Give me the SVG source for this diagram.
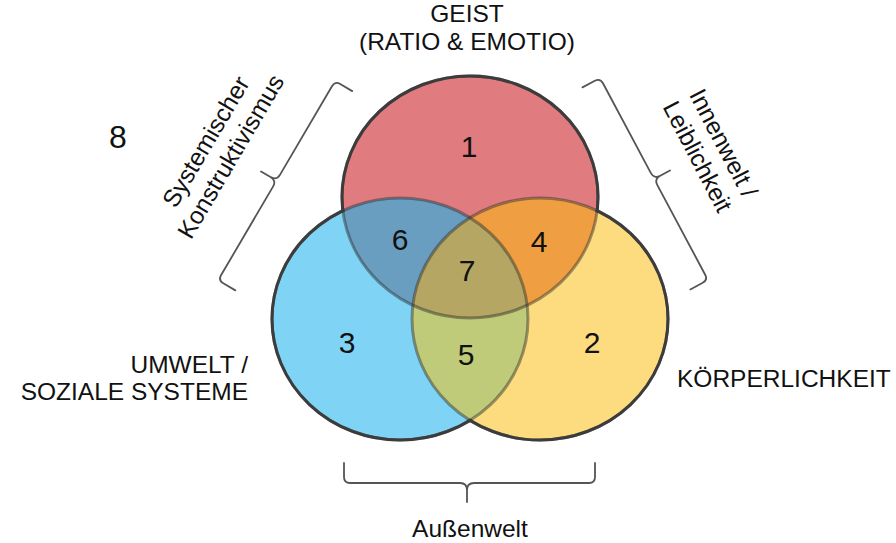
<svg xmlns="http://www.w3.org/2000/svg" width="896" height="543" viewBox="0 0 896 543">
<style>
.lbl{font-family:"Liberation Sans",Arial,Helvetica,sans-serif;font-size:24.5px;fill:#111;}
.num{font-family:"Liberation Sans",Arial,Helvetica,sans-serif;font-size:30px;fill:#111;text-anchor:middle;}
.brace{fill:none;stroke:#555;stroke-width:1.8;stroke-linejoin:round;stroke-linecap:round;}
.edge{fill:none;stroke:#3c3c3c;stroke-width:3;}
.edgeIn{fill:none;stroke:#2a2a2a;stroke-width:3;stroke-opacity:0.45;}
</style>
<defs>
<clipPath id="cR"><ellipse cx="470" cy="197" rx="128" ry="121"/></clipPath>
<clipPath id="cB"><ellipse cx="400" cy="319" rx="128" ry="121"/></clipPath>
<mask id="mR" maskUnits="userSpaceOnUse" x="0" y="0" width="896" height="543"><rect width="896" height="543" fill="#fff"/><ellipse cx="400" cy="319" rx="126.5" ry="119.5" fill="#000"/><ellipse cx="540" cy="319" rx="126.5" ry="119.5" fill="#000"/></mask>
<mask id="mB" maskUnits="userSpaceOnUse" x="0" y="0" width="896" height="543"><rect width="896" height="543" fill="#fff"/><ellipse cx="470" cy="197" rx="126.5" ry="119.5" fill="#000"/><ellipse cx="540" cy="319" rx="126.5" ry="119.5" fill="#000"/></mask>
<mask id="mY" maskUnits="userSpaceOnUse" x="0" y="0" width="896" height="543"><rect width="896" height="543" fill="#fff"/><ellipse cx="470" cy="197" rx="126.5" ry="119.5" fill="#000"/><ellipse cx="400" cy="319" rx="126.5" ry="119.5" fill="#000"/></mask>
</defs>

<g id="geist"><ellipse cx="470" cy="197" rx="128" ry="121" fill="#e07b80"/></g>
<g id="umwelt"><ellipse cx="400" cy="319" rx="128" ry="121" fill="#7fd4f5"/></g>
<g id="koerper"><ellipse cx="540" cy="319" rx="128" ry="121" fill="#fddc7f"/></g>

<g id="overlaps">
<g id="geist-umwelt" clip-path="url(#cR)"><ellipse cx="400" cy="319" rx="128" ry="121" fill="#6a9ec0"/></g>
<g id="geist-koerper" clip-path="url(#cR)"><ellipse cx="540" cy="319" rx="128" ry="121" fill="#ef9f42"/></g>
<g id="umwelt-koerper" clip-path="url(#cB)"><ellipse cx="540" cy="319" rx="128" ry="121" fill="#bfcb79"/></g>
<g id="all-three" clip-path="url(#cR)"><g clip-path="url(#cB)"><ellipse cx="540" cy="319" rx="128" ry="121" fill="#b5a763"/></g></g>
</g>

<g id="outlines">
<ellipse class="edgeIn" cx="470" cy="197" rx="128" ry="121"/>
<ellipse class="edgeIn" cx="400" cy="319" rx="128" ry="121"/>
<ellipse class="edgeIn" cx="540" cy="319" rx="128" ry="121"/>
<ellipse class="edge" cx="470" cy="197" rx="128" ry="121" mask="url(#mR)"/>
<ellipse class="edge" cx="400" cy="319" rx="128" ry="121" mask="url(#mB)"/>
<ellipse class="edge" cx="540" cy="319" rx="128" ry="121" mask="url(#mY)"/>
</g>

<g id="region-labels">
<text class="num" x="469" y="157">1</text>
<text class="num" x="592" y="353">2</text>
<text class="num" x="347" y="353">3</text>
<text class="num" x="539" y="252">4</text>
<text class="num" x="466" y="365">5</text>
<text class="num" x="400" y="250">6</text>
<text class="num" x="467" y="281">7</text>
<text class="num" x="118" y="148" style="font-size:32px">8</text>
</g>

<g id="connectors">
<path id="brace-bottom" class="brace" d="M344,463 L344,477 Q344,483 350,483 L460,483 Q467,483 467,490 L467,502 M467,490 Q467,483 474,483 L589,483 Q595,483 595,477 L595,463"/>
<g id="brace-left" transform="translate(335,81) rotate(120.4)">
<path class="brace" d="M0,-20 L0,-6 Q0,0 6,0 L108.5,0 Q115.5,0 115.5,7 L115.5,18 M115.5,7 Q115.5,0 122.5,0 L225,0 Q231,0 231,-6 L231,-20"/>
</g>
<g id="brace-right" transform="translate(708,280) rotate(-118.1)">
<path class="brace" d="M0,-20 L0,-6 Q0,0 6,0 L107.5,0 Q114.5,0 114.5,7 L114.5,18 M114.5,7 Q114.5,0 121.5,0 L223,0 Q229,0 229,-6 L229,-20"/>
</g>
</g>

<g id="labels">
<text class="lbl" x="467" y="22" text-anchor="middle">GEIST</text>
<text class="lbl" x="467" y="50" text-anchor="middle">(RATIO &amp; EMOTIO)</text>
<text class="lbl" x="248" y="373" text-anchor="end">UMWELT /</text>
<text class="lbl" x="248" y="400" text-anchor="end">SOZIALE SYSTEME</text>
<text class="lbl" x="677" y="387">KÖRPERLICHKEIT</text>
<text class="lbl" x="470" y="537" text-anchor="middle">Außenwelt</text>
<g transform="translate(213,146) rotate(-59.5)">
<text class="lbl" x="0" y="0" text-anchor="middle">Systemischer</text>
<text class="lbl" x="0" y="29" text-anchor="middle">Konstruktivismus</text>
</g>
<g transform="translate(716,147) rotate(62.5)">
<text class="lbl" x="0" y="0" text-anchor="middle">Innenwelt /</text>
<text class="lbl" x="0" y="29" text-anchor="middle">Leiblichkeit</text>
</g>
</g>
</svg>
